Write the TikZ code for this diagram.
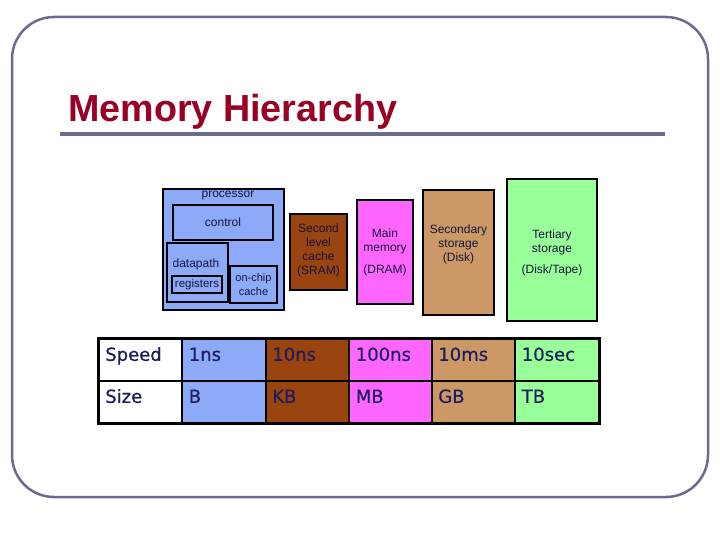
\documentclass[tikz,border=0pt]{standalone}
\usepackage{fontspec}
\setmainfont{Liberation Sans}
\newfontfamily\tblfont[FakeBold=0.6]{DejaVu Sans}
\usepackage{xcolor}
\usetikzlibrary{positioning,calc}
\definecolor{mhFrame}{HTML}{6B6B8E}
\definecolor{mhTitle}{HTML}{990026}
\definecolor{mhInk}{HTML}{1E1E5C}
\definecolor{mhDark}{HTML}{14143C}
\definecolor{mhBlue}{HTML}{8CAAF8}
\definecolor{mhBrown}{HTML}{9A4410}
\definecolor{mhPink}{HTML}{FF66FF}
\definecolor{mhTan}{HTML}{CC9966}
\definecolor{mhGreen}{HTML}{99FF99}
\tikzset{
  % Slide frame
  frame/.style={draw=mhFrame,line width=2.5pt,rounded corners=42pt},
  % Slide title and its rule
  title/.style={font=\bfseries\fontsize{37.7}{40}\selectfont,text=mhTitle,inner sep=0pt},
  titlerule/.style={draw=mhFrame,line width=3.5pt},
  % Memory level box
  lvbox/.style={rectangle,draw=black,line width=2pt,inner sep=0pt},
  % Small label inside a box
  ltxt/.style={font=\fontsize{12}{14}\selectfont,text=mhDark,align=center,inner sep=0pt},
  % Table cell
  cell/.style={rectangle,draw=black,line width=1.6pt,anchor=north west,
    text width=70pt,inner xsep=6.5pt,inner ysep=0pt,minimum height=42pt,
    text height=11pt,text depth=9pt,align=left,
    font=\tblfont\fontsize{18}{20}\selectfont,text=mhInk},
}
\begin{document}
\begin{tikzpicture}[x=1pt,y=-1pt]
  \useasboundingbox (0,0) rectangle (720,540);
  \draw[frame] (12,17) rectangle (708,497);

  %% --- TITLE ---
  \node[title,anchor=base west] (title) at (68,122) {Memory Hierarchy};
  \draw[titlerule] (60,134) -- (665,134);

  %% --- PROCESSOR ---
  \node[lvbox,fill=mhBlue,minimum width=121pt,minimum height=121pt] (proc) at (223.5,249.5) {};
  \node[ltxt] (proctxt) at (228,195.5) {processor};
  \node[lvbox,line width=1.6pt,minimum width=100pt,minimum height=35pt] (ctrl) at (223,222.5) {};
  \node[ltxt] (ctrltxt) at (ctrl) {control};
  \node[lvbox,line width=2.6pt,minimum width=61pt,minimum height=59pt] (dpath) at (197.5,272.5) {};
  \node[ltxt] (dpathtxt) at (196,264) {datapath};
  \node[lvbox,line width=2.6pt,minimum width=50pt,minimum height=17pt] (regs) at (197,284.5) {};
  \node[ltxt,font=\fontsize{11.5}{14}\selectfont] (regstxt) at (regs) {registers};
  \node[lvbox,line width=1.8pt,minimum width=47pt,minimum height=37pt] (occ) at (253.5,284.5) {};
  \node[ltxt,font=\fontsize{11}{14}\selectfont] (occtxt) at (occ) {on-chip\\cache};

  %% --- OTHER LEVELS ---
  \node[lvbox,fill=mhBrown,minimum width=57pt,minimum height=76pt] (l2) at (318.5,252) {};
  \node[ltxt] (l2txt) at (318.5,250) {Second\\level\\cache\\(SRAM)};

  \node[lvbox,fill=mhPink,minimum width=56pt,minimum height=104pt] (mm) at (385,252) {};
  \node[ltxt] (mmtxt) at (385,241) {Main\\memory};
  \node[ltxt] (mmsub) at (385,270) {(DRAM)};

  \node[lvbox,fill=mhTan,minimum width=71pt,minimum height=125pt] (sec) at (458.5,252.5) {};
  \node[ltxt] (sectxt) at (458.5,244) {Secondary\\storage\\(Disk)};

  \node[lvbox,line width=2.6pt,fill=mhGreen,minimum width=90pt,minimum height=142pt] (ter) at (552,250) {};
  \node[ltxt] (tertxt) at (552,242) {Tertiary\\storage};
  \node[ltxt] (tersub) at (552,270) {(Disk/Tape)};

  %% --- SPEED / SIZE TABLE ---
  \node[cell,fill=white]    (spdlbl) at (98,338)  {Speed};
  \node[cell,fill=mhBlue]   (spd1)   at (181.5,338) {1ns};
  \node[cell,fill=mhBrown]  (spd2)   at (265,338) {10ns};
  \node[cell,fill=mhPink]   (spd3)   at (348.5,338) {100ns};
  \node[cell,fill=mhTan]    (spd4)   at (431,338) {10ms};
  \node[cell,fill=mhGreen]  (spd5)   at (514.5,338) {10sec};

  \node[cell,fill=white]    (sizlbl) at (98,380)  {Size};
  \node[cell,fill=mhBlue]   (siz1)   at (181.5,380) {B};
  \node[cell,fill=mhBrown]  (siz2)   at (265,380) {KB};
  \node[cell,fill=mhPink]   (siz3)   at (348.5,380) {MB};
  \node[cell,fill=mhTan]    (siz4)   at (431,380) {GB};
  \node[cell,fill=mhGreen]  (siz5)   at (514.5,380) {TB};

  \draw[line width=3pt] (spdlbl.north west) rectangle (siz5.south east);
\end{tikzpicture}
\end{document}
